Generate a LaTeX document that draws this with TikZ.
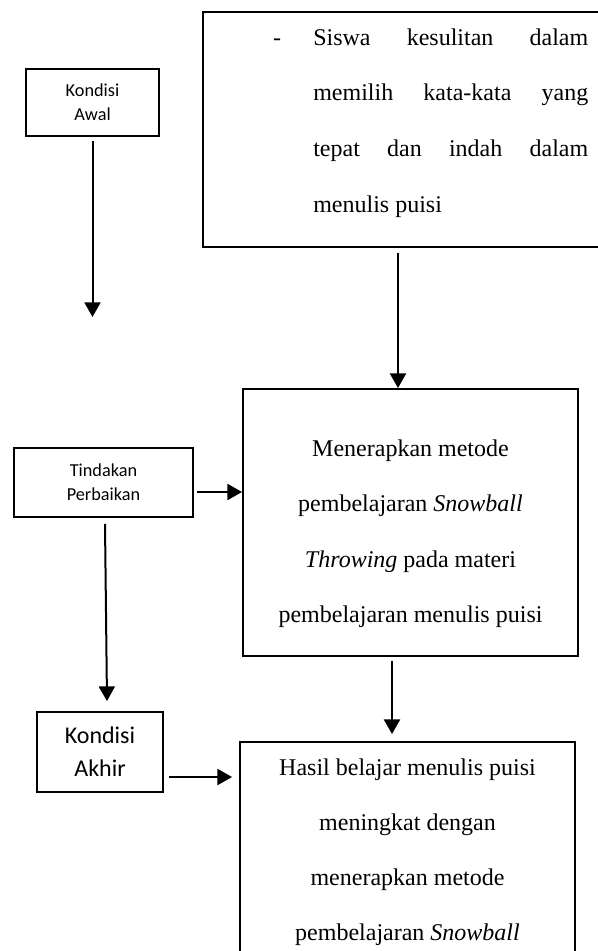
\documentclass[tikz,border=0pt]{standalone}
\usepackage{fontspec}
\setmainfont{Liberation Serif}
\newfontfamily\calibrifont{Carlito}
\usetikzlibrary{arrows.meta,calc}
\begin{document}
\begin{tikzpicture}[x=0.75pt,y=-0.75pt,
  box/.style={draw,line width=1.4pt,inner sep=0pt,align=center},
  lblsmall/.style={font=\calibrifont\fontsize{13.7pt}{18pt}\selectfont},
  lblbig/.style={font=\calibrifont\fontsize{18pt}{24.75pt}\selectfont},
  ln/.style={font=\fontsize{18pt}{41.6pt}\selectfont,anchor=base,inner sep=0pt},
  lnw/.style={ln,anchor=base west},
  arr/.style={line width=1.5pt,-{Triangle[length=11pt,width=12pt]}}]
\useasboundingbox (0,0) rectangle (598,951);
\clip (0,0) rectangle (598,951);
% boxes
\node[box,lblsmall,minimum width=99.75pt,minimum height=50.25pt] (a) at (92.5,102.5) {Kondisi\\Awal};
\node[box,minimum width=312.75pt,minimum height=176.25pt] (p) at (411.5,129.5) {};
\node[box,lblsmall,minimum width=134.25pt,minimum height=51.75pt] (t) at (103.5,482.5) {Tindakan\\Perbaikan};
\node[box,minimum width=251.25pt,minimum height=200.25pt] (m) at (410.5,522.5) {};
\node[box,lblbig,minimum width=94.5pt,minimum height=60pt] (k) at (100,752) {Kondisi\\Akhir};
\node[box,minimum width=251.25pt,minimum height=174.75pt] (b) at (407.5,858.5) {};
% top box text
\node[ln] (pdash) at (277,45) {-};
\node[lnw] (p1) at (313,45) {\makebox[206.25pt][s]{Siswa kesulitan dalam}};
\node[lnw] (p2) at (313,100.7) {\makebox[206.25pt][s]{memilih kata-kata yang}};
\node[lnw] (p3) at (313,156.3) {\makebox[206.25pt][s]{tepat dan indah dalam}};
\node[lnw] (p4) at (313,212) {menulis puisi};
% middle box text
\node[ln] (m1) at (410.5,456) {Menerapkan metode};
\node[ln] (m2) at (410.5,511.5) {pembelajaran \textit{Snowball}};
\node[ln] (m3) at (410.5,567) {\textit{Throwing} pada materi};
\node[ln] (m4) at (410.5,622) {pembelajaran menulis puisi};
% bottom box text
\node[ln] (b1) at (407.5,775) {Hasil belajar menulis puisi};
\node[ln] (b2) at (407.5,830.5) {meningkat dengan};
\node[ln] (b3) at (407.5,885) {menerapkan metode};
\node[ln] (b4) at (407.5,940) {pembelajaran \textit{Snowball}};
% connectors
\coordinate (c1) at (92,317);
\coordinate (px) at (398,0);
\coordinate (ty) at (0,492);
\coordinate (mx) at (392,0);
\coordinate (ky) at (0,777);
\draw[arr,shorten <=3pt] (a.south) -- (a.south |- c1);
\draw[arr,shorten <=3.75pt] (p.south -| px) -- (m.north -| px);
\draw[arr,shorten <=2.25pt] (t.east |- ty) -- (m.west |- ty);
\draw[arr,shorten <=3pt,shorten >=5.25pt] (m.south -| mx) -- (b.north -| mx);
\draw[arr] ($(t.south)+(1.5,6)$) -- ($(k.north)+(7,-10)$);
\draw[arr,shorten <=3.75pt,shorten >=5.25pt] (k.east |- ky) -- (b.west |- ky);
\end{tikzpicture}
\end{document}
